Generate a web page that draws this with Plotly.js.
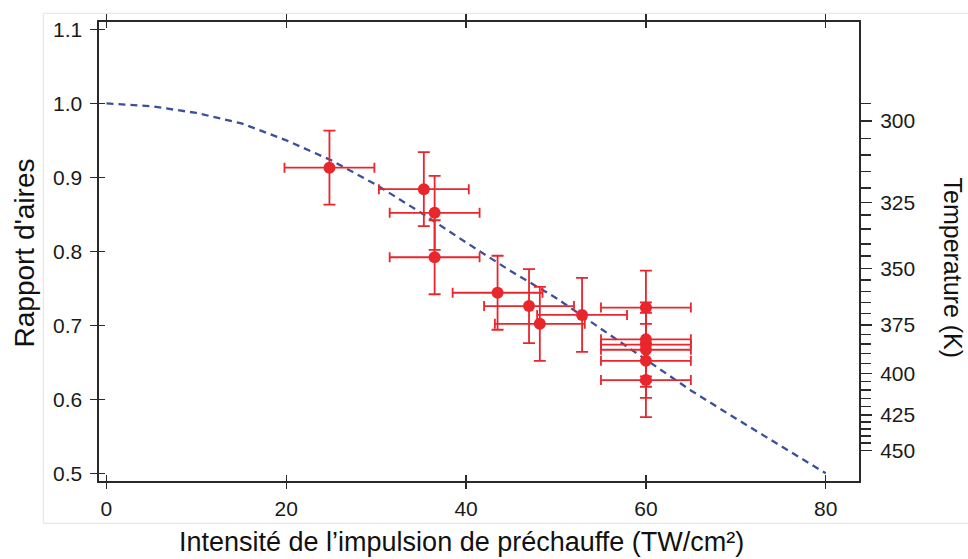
<!DOCTYPE html>
<html>
<head>
<meta charset="utf-8">
<script src="https://cdn.plot.ly/plotly-3.0.1.min.js"></script>
<style>html,body{margin:0;padding:0;background:#fff;}#chart{width:968px;height:559px;}</style>
</head>
<body>
<div id="chart"></div>
<script>
// Measured points (intensity TW/cm², area ratio)
const intensity = [24.8, 35.3, 36.5, 36.5, 43.5, 47.0, 48.2, 52.9, 60, 60, 60, 60, 60, 60];
const ratio     = [0.913, 0.884, 0.852, 0.792, 0.744, 0.726, 0.702, 0.714, 0.724, 0.681, 0.674, 0.667, 0.652, 0.626];
const intensityErr = [5, 5, 5, 5, 5, 5, 5, 5, 5, 5, 5, 5, 5, 5];
const ratioErr     = [0.05, 0.05, 0.05, 0.05, 0.05, 0.05, 0.05, 0.05, 0.05, 0.05, 0.05, 0.05, 0.05, 0.05];

// Dashed model curve
const curveX = [0, 5, 10, 15, 20, 25, 30, 35, 40, 45, 50, 55, 60, 65, 70, 75, 80];
const curveY = [1.0, 0.996, 0.987, 0.973, 0.950, 0.923, 0.890, 0.852, 0.812, 0.773, 0.737, 0.695, 0.653, 0.612, 0.574, 0.537, 0.500];

// Axis ticks
const xTickVals = [0, 20, 40, 60, 80];
const yTickVals = [0.5, 0.6, 0.7, 0.8, 0.9, 1.0, 1.1];
const yTickText = ['0.5', '0.6', '0.7', '0.8', '0.9', '1.0', '1.1'];

// Temperature scale (positions on the area-ratio scale)
const tempLabels = ['300', '325', '350', '375', '400', '425', '450'];
const tempPos    = [0.9761, 0.8657, 0.7770, 0.7004, 0.6351, 0.5788, 0.5308];
const tempMinorPos = [1.0,
  0.9527, 0.9301, 0.9076, 0.8859,
  0.8491, 0.8301, 0.8099, 0.7936,
  0.7612, 0.7454, 0.7311, 0.7162,
  0.6876, 0.6747, 0.6619, 0.6484,
  0.6241, 0.6126, 0.6011, 0.5903,
  0.5693, 0.5599, 0.5503, 0.5409];

const red = '#e8262c';
const blue = '#3b4f9b';
const ink = '#2a2a2a';
const xRange = [-0.83, 83.7];
const yRange = [0.4896, 1.1099];
const fontFam = 'Liberation Sans, Arial, Helvetica, sans-serif';

const traces = [
  {
    x: curveX, y: curveY, mode: 'lines', type: 'scatter',
    line: {color: blue, width: 2.3, dash: '7px,5px'},
    hoverinfo: 'skip'
  },
  {
    x: intensity, y: ratio, mode: 'markers', type: 'scatter',
    marker: {color: red, size: 12},
    error_x: {type: 'data', array: intensityErr, visible: true, color: red, thickness: 1.8, width: 5},
    error_y: {type: 'data', array: ratioErr, visible: true, color: red, thickness: 1.8, width: 6}
  },
  {x: [null], y: [null], xaxis: 'x2', yaxis: 'y3', mode: 'markers', hoverinfo: 'skip'},
  {x: [null], y: [null], xaxis: 'x', yaxis: 'y2', mode: 'markers', hoverinfo: 'skip'}
];

const layout = {
  width: 968, height: 559,
  margin: {l: 99, r: 109, t: 22, b: 78, pad: 0},
  paper_bgcolor: '#ffffff', plot_bgcolor: '#ffffff',
  showlegend: false,
  font: {family: fontFam, color: '#1a1a1a', size: 21},
  xaxis: {
    range: xRange, tickmode: 'array', tickvals: xTickVals,
    ticks: 'outside', ticklen: 6, tickwidth: 1.5, tickcolor: ink,
    showline: true, linecolor: ink, linewidth: 1.6, mirror: 'ticks',
    showgrid: false, zeroline: false,
    tickfont: {size: 21, color: '#1a1a1a'}, ticklabelstandoff: 2
  },
  xaxis2: {
    range: xRange, overlaying: 'x', anchor: 'y3', tickmode: 'array', tickvals: xTickVals,
    ticks: 'inside', ticklen: 6, tickwidth: 1.5, tickcolor: ink,
    showline: false, mirror: 'ticks', showticklabels: false,
    showgrid: false, zeroline: false
  },
  yaxis: {
    range: yRange, tickmode: 'array', tickvals: yTickVals, ticktext: yTickText,
    ticks: 'outside', ticklen: 7, tickwidth: 1.5, tickcolor: ink,
    showline: true, linecolor: ink, linewidth: 1.6, mirror: true,
    showgrid: false, zeroline: false,
    tickfont: {size: 21, color: '#1a1a1a'}, ticklabelstandoff: 4
  },
  yaxis3: {
    range: yRange, overlaying: 'y', anchor: 'x2', tickmode: 'array', tickvals: yTickVals,
    ticks: 'inside', ticklen: 6, tickwidth: 1.5, tickcolor: ink,
    showline: false, showticklabels: false,
    showgrid: false, zeroline: false
  },
  yaxis2: {
    range: yRange, overlaying: 'y', side: 'right', anchor: 'x',
    tickmode: 'array', tickvals: tempPos, ticktext: tempLabels,
    ticks: 'outside', ticklen: 12, tickwidth: 1.5, tickcolor: ink,
    minor: {tickmode: 'array', tickvals: tempMinorPos, ticks: 'outside', ticklen: 11, tickwidth: 1.5, tickcolor: ink, showgrid: false},
    showline: false, showgrid: false, zeroline: false,
    tickfont: {size: 21, color: '#1a1a1a'}, ticklabelstandoff: 4
  },
  shapes: [
    {type: 'rect', xref: 'paper', yref: 'paper', x0: -0.0733, x1: 1.15, y0: -0.0922, y1: 1.019,
     line: {color: '#e2e2e2', width: 1}, fillcolor: 'rgba(0,0,0,0)', layer: 'below'}
  ],
  annotations: [
    {text: 'Intensité de l’impulsion de préchauffe (TW/cm²)', xref: 'paper', yref: 'paper',
     x: 0.4776, y: -0.1329, xanchor: 'center', yanchor: 'middle', showarrow: false,
     font: {size: 27, color: '#111', family: fontFam}},
    {text: "Rapport d'aires", xref: 'paper', yref: 'paper',
     x: -0.0974, y: 0.4978, xanchor: 'center', yanchor: 'middle', showarrow: false, textangle: -90,
     font: {size: 28, color: '#111', family: fontFam}},
    {text: 'Temperature (K)', xref: 'paper', yref: 'paper',
     x: 1.1237, y: 0.4651, xanchor: 'center', yanchor: 'middle', showarrow: false, textangle: 90,
     font: {size: 25, color: '#111', family: fontFam}}
  ]
};

Plotly.newPlot('chart', traces, layout, {staticPlot: true, displayModeBar: false});
</script>
</body>
</html>
